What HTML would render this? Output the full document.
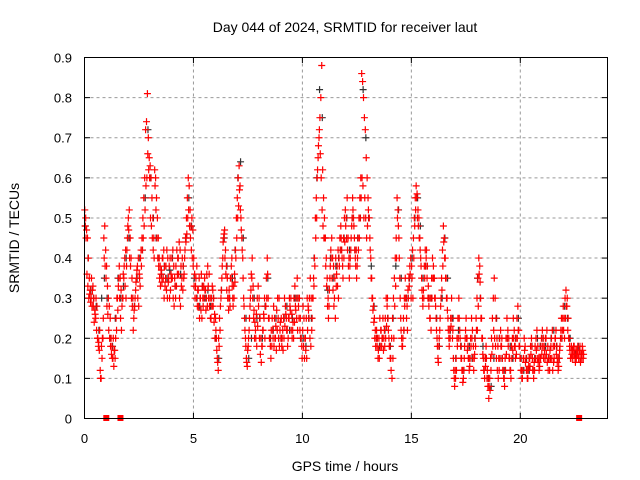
<!DOCTYPE html>
<html><head><meta charset="utf-8"><style>
body{margin:0;background:#fff}
svg{display:block;font-family:"Liberation Sans",sans-serif}
</style></head><body>
<svg id="chart" width="640" height="480" viewBox="0 0 640 480">
<rect width="640" height="480" fill="#fff"/>
<text x="345" y="32" font-size="14" text-anchor="middle">Day 044 of 2024, SRMTID for receiver laut</text>
<text transform="translate(19,238) rotate(-90)" font-size="14" text-anchor="middle">SRMTID / TECUs</text>
<text x="345" y="471" font-size="14" text-anchor="middle">GPS time / hours</text>
<g id="grid"></g><g id="ticks"></g><g id="black"></g><g id="red"></g>
<rect x="84.5" y="57.5" width="523" height="361" fill="none" stroke="#000"/>
</svg>
<script>
const xTicks=[0,5,10,15,20];
const yTicks=[0,0.1,0.2,0.3,0.4,0.5,0.6,0.7,0.8,0.9];
const yTickLabels=["0","0.1","0.2","0.3","0.4","0.5","0.6","0.7","0.8","0.9"];
// Red series A: one row per hour, samples evenly spaced within the hour
const redA=[
[0.52,0.5,0.47,0.45,0.4,0.35,0.32,0.3,0.28,0.33,0.3,0.27,0.25,0.22,0.2,0.18,0.17,0.12,0.1,0.15,0.2,0.45,0.48,0.42],
[0.38,0.33,0.3,0.28,0.25,0.2,0.18,0.15,0.13,0.17,0.2,0.22,0.3,0.33,0.38,0.35,0.32,0.28,0.3,0.35,0.4,0.42,0.38,0.45],
[0.5,0.52,0.45,0.4,0.35,0.3,0.25,0.28,0.32,0.35,0.38,0.4,0.36,0.33,0.42,0.45,0.5,0.55,0.6,0.72,0.74,0.81,0.7,0.65],
[0.63,0.6,0.55,0.5,0.45,0.62,0.6,0.55,0.5,0.45,0.4,0.38,0.36,0.34,0.4,0.42,0.38,0.35,0.32,0.3,0.34,0.38,0.4,0.36],
[0.4,0.42,0.38,0.35,0.3,0.33,0.36,0.4,0.44,0.42,0.38,0.35,0.32,0.35,0.4,0.45,0.5,0.55,0.6,0.58,0.52,0.48,0.5,0.47],
[0.4,0.36,0.33,0.3,0.28,0.32,0.35,0.3,0.27,0.25,0.3,0.33,0.35,0.32,0.3,0.28,0.33,0.36,0.3,0.25,0.28,0.32,0.3,0.26],
[0.25,0.2,0.15,0.12,0.18,0.22,0.3,0.35,0.4,0.45,0.47,0.42,0.38,0.35,0.3,0.32,0.28,0.35,0.4,0.3,0.33,0.36,0.42,0.5],
[0.55,0.6,0.63,0.58,0.5,0.45,0.4,0.3,0.25,0.2,0.15,0.13,0.18,0.22,0.28,0.32,0.35,0.3,0.25,0.2,0.22,0.26,0.3,0.33],
[0.3,0.25,0.2,0.18,0.22,0.26,0.3,0.28,0.35,0.4,0.3,0.25,0.2,0.15,0.18,0.22,0.28,0.25,0.2,0.17,0.22,0.25,0.3,0.22],
[0.2,0.18,0.22,0.25,0.3,0.28,0.25,0.22,0.2,0.25,0.28,0.3,0.26,0.22,0.2,0.24,0.28,0.3,0.35,0.3,0.25,0.22,0.2,0.18],
[0.22,0.18,0.15,0.2,0.25,0.3,0.28,0.25,0.2,0.18,0.22,0.3,0.35,0.4,0.5,0.55,0.6,0.65,0.7,0.75,0.8,0.88,0.62,0.55],
[0.5,0.45,0.4,0.35,0.3,0.28,0.35,0.42,0.45,0.4,0.38,0.3,0.25,0.33,0.38,0.42,0.4,0.45,0.48,0.42,0.38,0.45,0.5,0.52],
[0.5,0.55,0.45,0.4,0.38,0.42,0.48,0.55,0.5,0.45,0.4,0.42,0.38,0.45,0.5,0.55,0.6,0.86,0.84,0.8,0.75,0.72,0.65,0.6],
[0.55,0.5,0.45,0.4,0.35,0.3,0.28,0.25,0.22,0.2,0.18,0.15,0.2,0.25,0.22,0.18,0.2,0.17,0.22,0.25,0.3,0.28,0.25,0.2],
[0.18,0.15,0.2,0.25,0.3,0.35,0.4,0.45,0.55,0.52,0.45,0.35,0.25,0.2,0.18,0.25,0.3,0.35,0.3,0.28,0.32,0.35,0.38,0.4],
[0.38,0.42,0.45,0.5,0.55,0.58,0.56,0.52,0.5,0.45,0.4,0.35,0.3,0.32,0.38,0.42,0.4,0.35,0.3,0.28,0.25,0.3,0.35,0.4],
[0.38,0.35,0.3,0.25,0.2,0.15,0.18,0.22,0.28,0.35,0.42,0.48,0.45,0.4,0.35,0.3,0.25,0.2,0.22,0.25,0.3,0.2,0.15,0.1],
[0.12,0.15,0.2,0.25,0.3,0.22,0.18,0.15,0.12,0.1,0.15,0.2,0.25,0.2,0.18,0.15,0.13,0.2,0.25,0.22,0.18,0.15,0.2,0.25],
[0.3,0.35,0.4,0.38,0.3,0.25,0.2,0.15,0.12,0.15,0.18,0.1,0.08,0.05,0.1,0.15,0.2,0.25,0.3,0.35,0.3,0.25,0.2,0.18],
[0.15,0.2,0.22,0.18,0.15,0.12,0.1,0.15,0.2,0.25,0.22,0.2,0.15,0.12,0.18,0.2,0.25,0.22,0.18,0.2,0.25,0.28,0.22,0.18],
[0.15,0.12,0.1,0.15,0.2,0.18,0.15,0.12,0.1,0.13,0.15,0.18,0.2,0.15,0.12,0.14,0.18,0.2,0.22,0.18,0.15,0.13,0.15,0.2],
[0.22,0.2,0.18,0.15,0.2,0.22,0.18,0.15,0.12,0.15,0.2,0.22,0.18,0.15,0.2,0.22,0.18,0.15,0.13,0.17,0.2,0.25,0.22,0.28],
[0.25,0.3,0.32,0.28,0.22,0.2,0.18,0.15,0.18,0.17,0.16,0.18,0.15,0.17,0.16,0.18,0.15,0.17,0.14,0.16,0.18,0.15]
];
// Red series B (other satellites)
const redB=[
[0.48,0.45,0.36,0.33,0.3,0.31,0.29,0.35,0.32,0.28,0.24,0.26,0.3,0.28,0.2,0.19,0.22,0.1,0.18,0.2,0.25,0.4,0.38,0.35],
[0.28,0.26,0.22,0.2,0.18,0.16,0.15,0.2,0.17,0.15,0.25,0.3,0.27,0.35,0.3,0.25,0.22,0.3,0.36,0.38,0.33,0.3,0.42,0.48],
[0.47,0.4,0.38,0.3,0.28,0.22,0.27,0.3,0.34,0.37,0.3,0.28,0.35,0.4,0.38,0.42,0.45,0.48,0.52,0.58,0.6,0.66,0.62,0.6],
[0.5,0.48,0.45,0.42,0.4,0.58,0.52,0.45,0.4,0.38,0.35,0.33,0.37,0.4,0.35,0.3,0.33,0.38,0.42,0.4,0.35,0.3,0.32,0.35],
[0.35,0.3,0.28,0.33,0.38,0.42,0.4,0.36,0.3,0.28,0.33,0.4,0.38,0.36,0.42,0.44,0.46,0.5,0.52,0.48,0.45,0.42,0.4,0.38],
[0.33,0.3,0.35,0.38,0.32,0.28,0.25,0.3,0.36,0.33,0.28,0.3,0.32,0.27,0.36,0.38,0.3,0.28,0.25,0.3,0.33,0.28,0.24,0.2],
[0.22,0.17,0.14,0.2,0.25,0.28,0.32,0.38,0.44,0.46,0.4,0.36,0.32,0.3,0.27,0.3,0.35,0.38,0.33,0.28,0.3,0.34,0.4,0.45],
[0.5,0.53,0.57,0.52,0.47,0.42,0.35,0.28,0.22,0.18,0.14,0.17,0.2,0.25,0.3,0.36,0.4,0.33,0.27,0.24,0.2,0.18,0.23,0.28],
[0.2,0.16,0.14,0.18,0.22,0.25,0.2,0.28,0.3,0.36,0.25,0.2,0.18,0.22,0.25,0.2,0.18,0.2,0.23,0.27,0.3,0.2,0.18,0.24],
[0.25,0.2,0.17,0.2,0.23,0.26,0.22,0.18,0.25,0.3,0.27,0.22,0.2,0.24,0.3,0.33,0.27,0.25,0.22,0.28,0.3,0.25,0.2,0.15],
[0.28,0.25,0.2,0.17,0.15,0.22,0.27,0.3,0.35,0.3,0.25,0.3,0.33,0.38,0.45,0.5,0.62,0.68,0.72,0.66,0.6,0.52,0.48,0.45],
[0.45,0.38,0.33,0.28,0.25,0.32,0.38,0.4,0.35,0.32,0.28,0.35,0.4,0.36,0.33,0.3,0.38,0.42,0.45,0.4,0.35,0.4,0.44,0.48],
[0.45,0.42,0.38,0.35,0.4,0.45,0.5,0.52,0.48,0.42,0.38,0.35,0.4,0.42,0.45,0.5,0.55,0.6,0.58,0.5,0.55,0.5,0.45,0.48],
[0.52,0.5,0.42,0.35,0.3,0.27,0.24,0.2,0.18,0.22,0.2,0.17,0.15,0.18,0.22,0.2,0.25,0.2,0.18,0.2,0.23,0.3,0.22,0.18],
[0.15,0.12,0.1,0.15,0.2,0.28,0.33,0.4,0.5,0.48,0.4,0.3,0.22,0.18,0.2,0.22,0.28,0.3,0.25,0.22,0.3,0.33,0.36,0.3],
[0.35,0.3,0.4,0.48,0.52,0.55,0.5,0.48,0.45,0.42,0.38,0.32,0.28,0.3,0.35,0.38,0.42,0.38,0.33,0.3,0.25,0.22,0.3,0.35],
[0.35,0.3,0.28,0.22,0.18,0.14,0.2,0.25,0.3,0.32,0.38,0.44,0.4,0.35,0.3,0.27,0.22,0.18,0.2,0.23,0.25,0.22,0.12,0.08],
[0.1,0.12,0.18,0.2,0.25,0.2,0.15,0.12,0.09,0.12,0.18,0.22,0.2,0.17,0.15,0.12,0.15,0.18,0.2,0.15,0.12,0.16,0.18,0.22],
[0.22,0.28,0.36,0.34,0.25,0.2,0.16,0.12,0.1,0.13,0.15,0.12,0.1,0.08,0.07,0.12,0.16,0.18,0.22,0.2,0.18,0.15,0.12,0.1],
[0.12,0.15,0.18,0.2,0.12,0.1,0.08,0.12,0.16,0.2,0.18,0.15,0.12,0.1,0.15,0.17,0.2,0.18,0.15,0.16,0.2,0.22,0.18,0.15],
[0.12,0.1,0.12,0.15,0.17,0.14,0.12,0.1,0.12,0.15,0.13,0.16,0.18,0.12,0.1,0.12,0.15,0.17,0.15,0.14,0.12,0.15,0.18,0.16],
[0.18,0.15,0.17,0.2,0.16,0.14,0.12,0.15,0.17,0.18,0.15,0.12,0.14,0.18,0.2,0.16,0.14,0.12,0.15,0.18,0.22,0.2,0.25,0.22],
[0.2,0.25,0.28,0.3,0.25,0.2,0.17,0.15,0.16,0.15,0.18,0.16,0.14,0.15,0.17,0.16,0.15,0.18,0.16,0.15,0.17,0.16]
];
// Black series: sparse, 8 samples per hour
const blackV=[
[0.48,0.4,0.32,0.3,0.28,0.22,0.3,0.35],[0.3,0.2,0.18,0.25,0.35,0.3,0.33,0.4],[0.45,0.3,0.28,0.35,0.4,0.42,0.55,0.72],
[0.6,0.5,0.45,0.4,0.36,0.38,0.35,0.37],[0.4,0.33,0.4,0.36,0.38,0.45,0.55,0.48],[0.35,0.3,0.28,0.33,0.3,0.32,0.28,0.3],
[0.2,0.15,0.32,0.45,0.38,0.3,0.35,0.42],[0.6,0.64,0.45,0.25,0.15,0.2,0.3,0.25],[0.25,0.2,0.28,0.35,0.2,0.22,0.25,0.2],
[0.2,0.25,0.28,0.22,0.25,0.3,0.3,0.2],[0.2,0.18,0.25,0.25,0.4,0.6,0.82,0.75],[0.45,0.32,0.4,0.35,0.38,0.4,0.42,0.45],
[0.5,0.42,0.5,0.42,0.45,0.5,0.82,0.7],[0.5,0.38,0.28,0.2,0.18,0.2,0.22,0.25],[0.18,0.25,0.38,0.52,0.35,0.22,0.3,0.35],
[0.4,0.5,0.55,0.48,0.35,0.38,0.3,0.3],[0.35,0.25,0.18,0.3,0.45,0.35,0.22,0.25],[0.15,0.22,0.18,0.12,0.2,0.18,0.15,0.2],
[0.35,0.3,0.18,0.15,0.1,0.08,0.15,0.25],[0.2,0.15,0.12,0.2,0.18,0.15,0.2,0.25],[0.15,0.12,0.15,0.12,0.18,0.15,0.2,0.18],
[0.2,0.18,0.15,0.2,0.22,0.18,0.15,0.2],[0.28,0.25,0.2,0.17,0.16,0.18]
];
const zeroT=[1.0,1.65,22.7];
const X=t=>84.5+t*21.79, Y=v=>418.5-v*401.1;
const NS="http://www.w3.org/2000/svg";
function mk(tag,attrs,parent){const e=document.createElementNS(NS,tag);for(const k in attrs)e.setAttribute(k,attrs[k]);parent.appendChild(e);return e;}
const grid=document.getElementById('grid'),ticks=document.getElementById('ticks');
xTicks.forEach(t=>{
  if(t>0){const g=mk('line',{x1:X(t),x2:X(t),y1:57.5,y2:418.5,stroke:'#999','stroke-dasharray':'3,3'},grid);
  
  }
  const l=mk('text',{x:X(t),y:443,'font-size':13,'text-anchor':'middle'},ticks);l.textContent=t;
  
  
  mk('line',{x1:X(t),x2:X(t),y1:418.5,y2:413,stroke:'#000'},ticks);
  mk('line',{x1:X(t),x2:X(t),y1:57.5,y2:63,stroke:'#000'},ticks);
});
yTicks.forEach((v,i)=>{
  if(v>0){const g=mk('line',{x1:84.5,x2:607.5,y1:Y(v),y2:Y(v),stroke:'#999','stroke-dasharray':'3,3'},grid);
  
  }
  const l=mk('text',{x:72,y:Y(v)+5,'font-size':13,'text-anchor':'end'},ticks);l.textContent=yTickLabels[i];
  
  
  mk('line',{x1:84.5,x2:90,y1:Y(v),y2:Y(v),stroke:'#000'},ticks);
  mk('line',{x1:607.5,x2:602,y1:Y(v),y2:Y(v),stroke:'#000'},ticks);
});
function cross(t,v,col,g){const x=X(t),y=Y(v);
  return mk('path',{d:`M${x-3.5} ${y}H${x+3.5}M${x} ${y-3.5}V${y+3.5}`,stroke:col,'stroke-width':1.2,fill:'none'},g);}
const bg=document.getElementById('black'),rg=document.getElementById('red');
blackV.forEach((row,h)=>row.forEach((v,k)=>{const p=cross(h+(k+0.3)/8,v,'#333',bg);
  
  }));
redA.forEach((row,h)=>row.forEach((v,k)=>{const p=cross(h+(k+0.3)/24,v,'#f00',rg);
  
  }));
redB.forEach((row,h)=>row.forEach((v,k)=>{const p=cross(h+(k+0.7)/24,v,'#f00',rg);
  
  }));
zeroT.forEach(t=>{const r=mk('rect',{x:X(t)-3,y:415,width:6,height:6,fill:'#f00'},rg);
  
  });
</script>
</body></html>
